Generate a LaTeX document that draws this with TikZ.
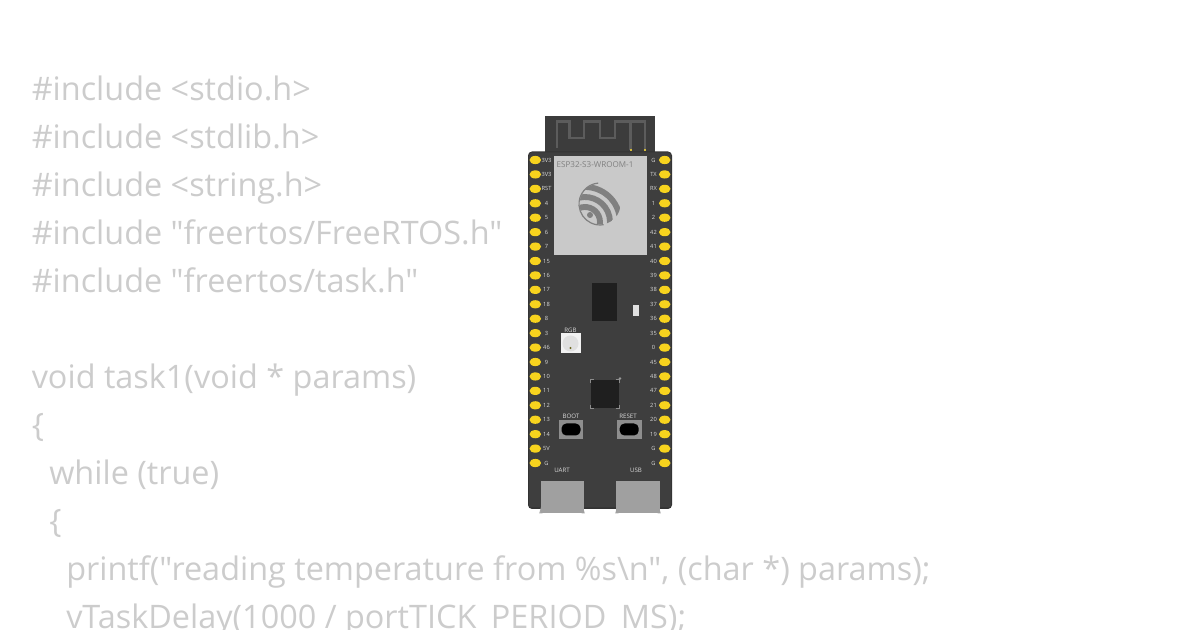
\documentclass[tikz,border=0pt]{standalone}
\usepackage{fontspec}
\setmainfont{Open Sans}
\newfontfamily\codefont{Open Sans}
\definecolor{boardc}{HTML}{3E3E3E}
\definecolor{antc}{HTML}{3C3C3C}
\definecolor{tracec}{HTML}{5C5C5C}
\definecolor{modc}{HTML}{C9C9C9}
\definecolor{logoc}{HTML}{808080}
\definecolor{pinc}{HTML}{F7D31E}
\definecolor{codec}{HTML}{CCCCCC}
\definecolor{usbc}{HTML}{A0A0A0}
\definecolor{btnc}{HTML}{8E8E8E}
\definecolor{labc}{HTML}{DADADA}
\tikzset{
  x=0.75pt,y=-0.75pt,
  codeline/.style={anchor=base west,inner sep=0pt,text=codec,font=\codefont\fontsize{24.3}{24.3}\selectfont},
  pinlabel/.style={inner sep=0pt,text=labc,font=\fontsize{4.3}{5}\selectfont},
  boardlabel/.style={inner sep=0pt,text=labc,font=\fontsize{4.6}{5}\selectfont},
  blackpart/.style={fill=black!88,draw=none},
}
\begin{document}
\begin{tikzpicture}
\useasboundingbox (0,0) rectangle (1200,630);
\begin{scope}
\clip (0,0) rectangle (1200,630);
\node[codeline] (c1) at (31.5,100.5) {\#include <stdio.h>};
\node[codeline] (c2) at (31.5,148.5) {\#include <stdlib.h>};
\node[codeline] (c3) at (31.5,196.5) {\#include <string.h>};
\node[codeline] (c4) at (31.5,244.5) {\#include "freertos/FreeRTOS.h"};
\node[codeline] (c5) at (31.5,292.5) {\#include "freertos/task.h"};
\node[codeline] (c6) at (31.5,388.5) {void task1(void * params)};
\node[codeline] (c7) at (31.5,436.5) {\{};
\node[codeline] (c8) at (49,484.5) {while (true)};
\node[codeline] (c9) at (49,532.5) {\{};
\node[codeline] (c10) at (66,580.5) {printf("reading temperature from \%s\textbackslash n", (char *) params);};
\node[codeline] (c11) at (66,628.5) {vTaskDelay(1000 / portTICK\_PERIOD\_MS);};
\end{scope}
% antenna
\fill[antc] (545,116) rectangle (655,153);
\draw[tracec,line width=1.9pt,line join=miter]
  (557,148) -- (557,121.5) -- (569.5,121.5) -- (569.5,138) -- (584,138) -- (584,121.5) -- (600,121.5) -- (600,138) -- (615,138) -- (615,121.5) -- (645,121.5) -- (645,150);
\draw[tracec,line width=1.9pt] (630.5,121.5) -- (630.5,150);
\fill[pinc!70!gray] (629.5,149) rectangle (632,151.5);
\fill[pinc!70!gray] (643.5,149) rectangle (646,151.5);
% board
\fill[black!80,rounded corners=3pt] (528,151.5) rectangle (672,509);
\fill[boardc,rounded corners=2pt] (529,152.5) rectangle (671,507.5);
% usb
\foreach \a/\s in {541/-1,583/1,617/-1,659/1}{\fill[black!35] (\a,507) -- (\a+\s*1.8,513.5) -- (\a-\s*1.5,513.5) -- cycle;}
\fill[usbc] (540.5,481) rectangle (584,513);
\fill[usbc] (616,481) rectangle (659.5,513);
% module
\fill[modc] (554,156) rectangle (647,255.5);
\node[inner sep=0pt,text=logoc,font=\fontsize{6.05}{7}\selectfont] (modlabel) at (595,164.5) {ESP32-S3-WROOM-1};
% logo
\begin{scope}
\clip (600,204) circle (20.5);
\foreach \r in {15,25,35}{\draw[logoc,line width=4.4pt] (585,222) ++(-115:\r) arc (-115:25:\r);}
\end{scope}
\draw[logoc,line width=0.9pt] (600,204) ++(-95:21) arc (-95:-280:21);
\fill[logoc] (590,215) circle (3);
% pins
\foreach \t [count=\i from 0] in {3V3,3V3,RST,4,5,6,7,15,16,17,18,8,3,46,9,10,11,12,13,14,5V,G}{
  \pgfmathsetmacro{\yy}{160+14.43*\i}
  \fill[pinc] (535.3,\yy) ellipse (5.8 and 4.1);
  \node[pinlabel] (L\i) at (546.5,\yy) {\t};
}
\foreach \t [count=\i from 0] in {G,TX,RX,1,2,42,41,40,39,38,37,36,35,0,45,48,47,21,20,19,G,G}{
  \pgfmathsetmacro{\yy}{160+14.43*\i}
  \fill[pinc] (664.7,\yy) ellipse (5.8 and 4.1);
  \node[pinlabel] (R\i) at (653.5,\yy) {\t};
}
% chips
\fill[blackpart] (592,283) rectangle (617,321.5);
\fill[white!88!black] (633,305) rectangle (639,316);
% LED
\fill[white!95!black] (560.5,333) rectangle (581,353.5);
\fill[black!12] (570.5,343.5) circle (8);
\fill[olive!70!black] (570.5,348) circle (1.2);
\node[boardlabel] (rgb) at (570.5,330.5) {RGB};
% square chip
\fill[blackpart] (590.5,380) rectangle (619,408.5);
\draw[black!45,line width=0.5pt] (590.5,383) -- (590.5,379.7) -- (594,379.7) (590.5,405) -- (590.5,408.7) -- (594,408.7) (615.5,408.7) -- (619.3,408.7) -- (619.3,405) (615.5,379.7) -- (619.3,379.7) -- (619.3,383);
\fill[black!40] (620,378.5) circle (1.4);
% buttons
\fill[btnc] (558.5,420) rectangle (583,439);
\fill[black,rounded corners=3.6pt] (561.5,423.5) rectangle (580.5,435.5);
\node[boardlabel] (boot) at (571,416) {BOOT};
\fill[btnc] (617,420) rectangle (641.5,439);
\fill[black,rounded corners=3.6pt] (619.7,423.5) rectangle (638.7,435.5);
\node[boardlabel] (reset) at (628,416) {RESET};
\node[boardlabel] (uart) at (562,470) {UART};
\node[boardlabel] (usb) at (636,470) {USB};
\end{tikzpicture}
\end{document}
